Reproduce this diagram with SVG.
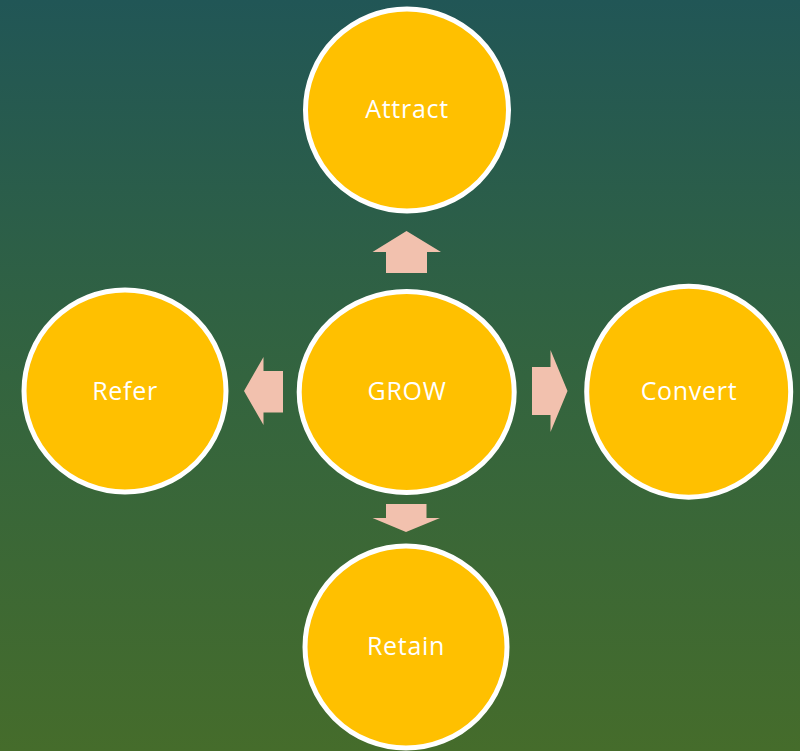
<svg xmlns="http://www.w3.org/2000/svg" width="800" height="751" viewBox="0 0 800 751">
<defs>
<linearGradient id="bg" x1="0" y1="0" x2="0" y2="1">
<stop offset="0" stop-color="#215656"/>
<stop offset="0.5" stop-color="#33643f"/>
<stop offset="1" stop-color="#456c2b"/>
</linearGradient>
<style>
.c{fill:#FFC000;stroke:#FFFFFF;stroke-width:5}
.t{fill:#FFFFFF;font-family:"Open Sans","Liberation Sans",sans-serif;font-size:25px;letter-spacing:0.7px;text-anchor:middle}
.a{fill:#F2C1AE}
</style>
</defs>
<rect width="800" height="751" fill="url(#bg)"/>
<g id="connectors">
<polygon class="a" points="406.5,231 441,252 427,252 427,273 386,273 386,252 372.5,252"/>
<polygon class="a" points="244,391 263.5,357 263.5,371 283,371 283,412.5 263.5,412.5 263.5,425"/>
<polygon class="a" points="567.5,391 550.5,350 550.5,367 532,367 532,415 550.5,415 550.5,432"/>
<polygon class="a" points="406,532 440,518 426.5,518 426.5,504 386,504 386,518 372.5,518"/>
</g>
<g id="attract"><ellipse class="c" cx="407" cy="110" rx="101.5" ry="101"/><text class="t" x="407" y="118">Attract</text></g>
<g id="grow"><ellipse class="c" cx="406.7" cy="392" rx="107.5" ry="100.5"/><text class="t" x="407" y="399.5">GROW</text></g>
<g id="refer"><ellipse class="c" cx="125" cy="391" rx="101" ry="101"/><text class="t" x="125" y="399.5">Refer</text></g>
<g id="convert"><ellipse class="c" cx="688.7" cy="391.7" rx="102" ry="105.5"/><text class="t" x="689" y="399.5">Convert</text></g>
<g id="retain"><ellipse class="c" cx="406" cy="647" rx="101" ry="101"/><text class="t" x="406" y="655">Retain</text></g>
</svg>
